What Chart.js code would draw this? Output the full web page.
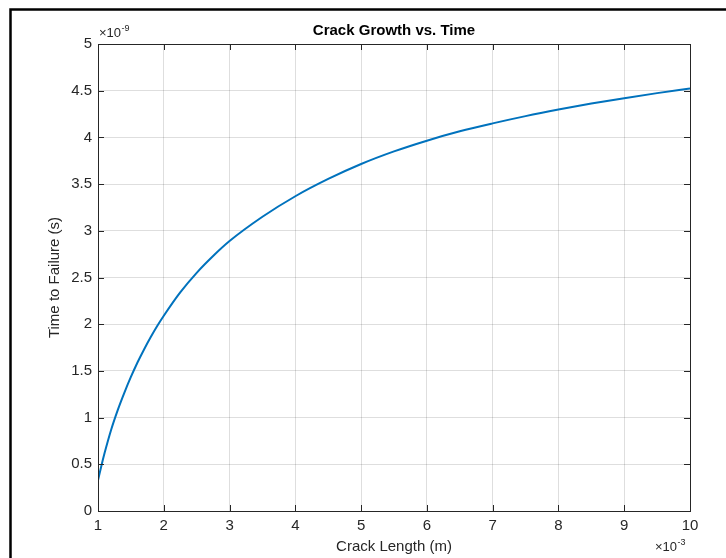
<!DOCTYPE html>
<html>
<head>
<meta charset="utf-8">
<script src="https://cdn.jsdelivr.net/npm/chart.js@4/dist/chart.umd.min.js"></script>
<style>
html,body{margin:0;padding:0;background:#fff;}
#wrap{width:726px;height:558px;position:relative;}
</style>
</head>
<body>
<div id="wrap"><canvas id="c" width="726" height="558"></canvas></div>
<script>
// Crack length (×10^-3 m) and time to failure (×10^-9 s)
const crackLength = [1.0, 1.05, 1.1, 1.2, 1.3, 1.4, 1.5, 1.6, 1.7, 1.8, 1.9, 2.0, 2.25, 2.5, 2.75, 3.0, 3.5, 4.0, 4.5, 5.0, 5.5, 6.0, 6.5, 7.0, 7.5, 8.0, 8.5, 9.0, 9.5, 10.0];
const timeToFailure = [0.33, 0.48, 0.62, 0.87, 1.08, 1.265, 1.435, 1.59, 1.73, 1.86, 1.98, 2.09, 2.34, 2.55, 2.73, 2.89, 3.15, 3.37, 3.555, 3.715, 3.85, 3.965, 4.065, 4.15, 4.228, 4.298, 4.362, 4.42, 4.474, 4.524];
const xExponent = '-3';
const yExponent = '-9';
const titleText = 'Crack Growth vs. Time';
const xLabel = 'Crack Length (m)';
const yLabel = 'Time to Failure (s)';

const FONT = '"Liberation Sans", Arial, Helvetica, sans-serif';
const AX = '#262626';

const decor = {
  id: 'decor',
  afterDraw(chart) {
    const ctx = chart.ctx;
    const a = chart.chartArea;
    const xs = chart.scales.x, ys = chart.scales.y;
    ctx.save();
    // outer frame
    ctx.strokeStyle = '#000';
    ctx.lineWidth = 2.5;
    ctx.beginPath();
    ctx.moveTo(10.5, 558);
    ctx.lineTo(10.5, 9.5);
    ctx.lineTo(726, 9.5);
    ctx.stroke();
    // box
    ctx.strokeStyle = AX;
    ctx.lineWidth = 1;
    ctx.strokeRect(Math.round(a.left)+0.5, Math.round(a.top)+0.5, Math.round(a.right-a.left), Math.round(a.bottom-a.top));
    // inward tick marks
    ctx.beginPath();
    xs.ticks.forEach(t => {
      const px = Math.round(xs.getPixelForValue(t.value)) + 0.5;
      ctx.moveTo(px, a.bottom); ctx.lineTo(px, a.bottom - 6);
      ctx.moveTo(px, a.top); ctx.lineTo(px, a.top + 6);
    });
    ys.ticks.forEach(t => {
      const py = Math.round(ys.getPixelForValue(t.value)) + 0.5;
      ctx.moveTo(a.left, py); ctx.lineTo(a.left + 6, py);
      ctx.moveTo(a.right, py); ctx.lineTo(a.right - 6, py);
    });
    ctx.stroke();
    // title
    ctx.fillStyle = '#000';
    ctx.font = 'bold 15px ' + FONT;
    ctx.textAlign = 'center';
    ctx.textBaseline = 'middle';
    ctx.fillText(titleText, (a.left + a.right) / 2, 31);
    // axis labels
    ctx.fillStyle = AX;
    ctx.font = '15px ' + FONT;
    ctx.fillText(xLabel, (a.left + a.right) / 2, 547);
    ctx.save();
    ctx.translate(55, (a.top + a.bottom) / 2);
    ctx.rotate(-Math.PI / 2);
    ctx.fillText(yLabel, 0, 0);
    ctx.restore();
    // exponents
    function expo(x, y, exp) {
      ctx.textAlign = 'left';
      ctx.textBaseline = 'alphabetic';
      ctx.font = '13px ' + FONT;
      ctx.fillText('\u00d710', x, y);
      const w = ctx.measureText('\u00d710').width;
      ctx.font = '9px ' + FONT;
      ctx.fillText(exp, x + w + 0.5, y - 6);
    }
    expo(99, 37, yExponent);
    expo(655, 551, xExponent);
    ctx.restore();
  }
};

new Chart(document.getElementById('c'), {
  type: 'line',
  data: {
    datasets: [{
      data: crackLength.map((x, i) => ({ x: x, y: timeToFailure[i] })),
      borderColor: '#0072BD',
      borderWidth: 2,
      pointRadius: 0,
      fill: false,
      cubicInterpolationMode: 'monotone'
    }]
  },
  options: {
    responsive: false,
    animation: false,
    devicePixelRatio: 1,
    layout: { padding: { left: 0, right: 36, top: 44, bottom: 0 } },
    plugins: { legend: { display: false }, tooltip: { enabled: false }, title: { display: false } },
    scales: {
      x: {
        type: 'linear', min: 1, max: 10,
        ticks: { stepSize: 1, color: AX, font: { family: FONT, size: 15 }, padding: 6, maxRotation: 0,
                 callback: v => String(Number(v.toFixed(2))) },
        grid: { color: 'rgba(0,0,0,0.13)', drawTicks: false },
        border: { display: false },
        afterFit(s) { s.height = 47; }
      },
      y: {
        type: 'linear', min: 0, max: 5,
        ticks: { stepSize: 0.5, color: AX, font: { family: FONT, size: 15 }, padding: 6,
                 callback: v => String(Number(v.toFixed(2))) },
        grid: { color: 'rgba(0,0,0,0.13)', drawTicks: false },
        border: { display: false },
        afterFit(s) { s.width = 98; }
      }
    }
  },
  plugins: [decor]
});
</script>
</body>
</html>
